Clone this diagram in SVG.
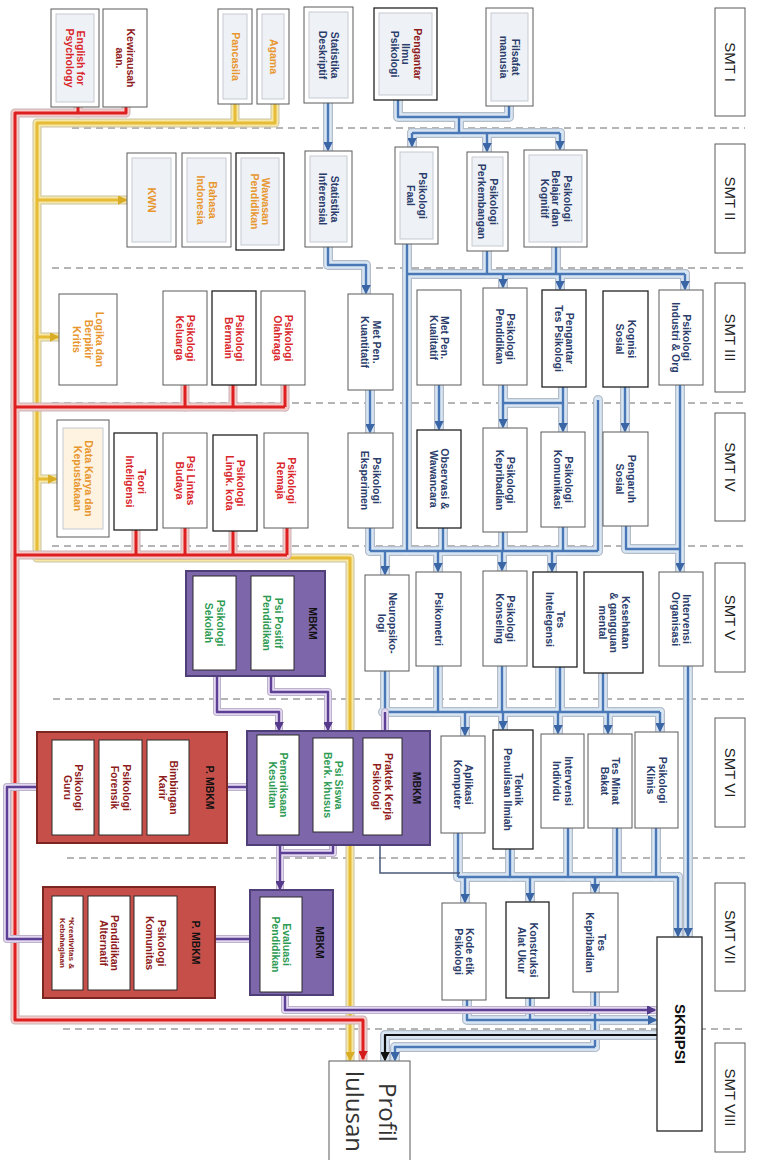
<svg xmlns="http://www.w3.org/2000/svg" xmlns:xlink="http://www.w3.org/1999/xlink" width="757" height="1160" viewBox="0 0 757 1160">
<style>
.box{fill:#fff;stroke:#5a5a5a;stroke-width:1}
.bk{stroke:#222;stroke-width:1.3}
.in{fill:#eef1f6;stroke:#c5cad2;stroke-width:1}
.t{font-family:"Liberation Sans",Arial,sans-serif;font-size:10.5px;font-weight:bold;fill:#2b3d6b;text-anchor:middle}
.o{fill:#e8962e}
.r{fill:#d9262b}
.dr{fill:#8e1b1b}
.g{fill:#2e9b53}
.k{fill:#111}
.s8{font-size:8px}
.smt{font-family:"Liberation Sans",Arial,sans-serif;font-size:15px;fill:#222;text-anchor:middle}
.sk{font-family:"Liberation Sans",Arial,sans-serif;font-size:15px;font-weight:bold;fill:#111;text-anchor:middle}
.pf{font-family:"Open Sans","Liberation Sans",sans-serif;font-size:24px;fill:#333}
.sep{stroke:#6b6b6b;stroke-width:1;stroke-dasharray:7 5;fill:none}
.mb{fill:#7d66a9;stroke:#4f3f78;stroke-width:2}
.pm{fill:#c64f4a;stroke:#7c2622;stroke-width:2}
.wb{fill:#fff;stroke:#2a2a2a;stroke-width:1}
.gl{fill:none;stroke-linejoin:round;stroke-linecap:round}
.gb{stroke:#b3bcc8;stroke-width:10}
.hb{stroke:#d8e6f4;stroke-width:7.5}
.cb{stroke:#4a78b6;stroke-width:2.4;stroke-linecap:butt}
.gr{stroke:#c8b4b4;stroke-width:9}
.hr{stroke:#f6c9c9;stroke-width:7}
.cr{stroke:#dd1f1f;stroke-width:3;stroke-linecap:butt}
.gy{stroke:#c9c2a5;stroke-width:9}
.hy{stroke:#f6e7a6;stroke-width:7}
.cy{stroke:#e6bb35;stroke-width:3;stroke-linecap:butt}
.gp{stroke:#bcb2c9;stroke-width:8}
.hp{stroke:#e3d7f1;stroke-width:6}
.cp{stroke:#5d3f93;stroke-width:2.4;stroke-linecap:butt}
.ck{stroke:#111;stroke-width:2.2;stroke-linecap:butt}
.thin{fill:none;stroke:#4a5a78;stroke-width:1.5}
</style>
<defs>
<marker id="ab" markerUnits="userSpaceOnUse" markerWidth="9" markerHeight="9" refX="8" refY="4.5" orient="auto"><path d="M0,0 L9,4.5 L0,9 z" fill="#3b66a6"/></marker>
<marker id="ar" markerUnits="userSpaceOnUse" markerWidth="9" markerHeight="9" refX="8" refY="4.5" orient="auto"><path d="M0,0 L9,4.5 L0,9 z" fill="#d21c1c"/></marker>
<marker id="ay" markerUnits="userSpaceOnUse" markerWidth="9" markerHeight="9" refX="8" refY="4.5" orient="auto"><path d="M0,0 L9,4.5 L0,9 z" fill="#d9ac25"/></marker>
<marker id="ap" markerUnits="userSpaceOnUse" markerWidth="9" markerHeight="9" refX="8" refY="4.5" orient="auto"><path d="M0,0 L9,4.5 L0,9 z" fill="#553a8c"/></marker>
<marker id="ak" markerUnits="userSpaceOnUse" markerWidth="9" markerHeight="9" refX="8" refY="4.5" orient="auto"><path d="M0,0 L9,4.5 L0,9 z" fill="#111"/></marker>
<g id="pb">
<path d="M398,100 V117 H509 V106"/>
<path d="M459,117 V133"/>
<path d="M412,133 H560"/>
<path d="M407,244 V551"/>
<path d="M487,251 V274"/>
<path d="M556,247 V274"/>
<path d="M407,274 H685"/>
<path d="M503,385 V403 H563 V387"/>
<path d="M598,400 V551"/>
<path d="M370,528 V551"/>
<path d="M443,528 V551"/>
<path d="M503,532 V551"/>
<path d="M563,527 V551"/>
<path d="M370,551 H598"/>
<path d="M626,526 V549 H680"/>
<path d="M385,671 V712"/>
<path d="M438,666 V712"/>
<path d="M502,666 V712"/>
<path d="M560,667 V712"/>
<path d="M603,673 V712"/>
<path d="M383,712 H660"/>
<path d="M458,833 V877"/>
<path d="M510,849 V877"/>
<path d="M568,828 V877"/>
<path d="M617,828 V877"/>
<path d="M656,828 V877"/>
<path d="M458,877 H678"/>
<path d="M530,998 V1020"/>
<path d="M595,992 V1047"/>
<path d="M328,103 V150" marker-end="url(#ab)"/>
<path d="M412,133 V146" marker-end="url(#ab)"/>
<path d="M487,133 V151" marker-end="url(#ab)"/>
<path d="M560,133 V149" marker-end="url(#ab)"/>
<path d="M328,247 V265 H366 V293" marker-end="url(#ab)"/>
<path d="M685,274 V289" marker-end="url(#ab)"/>
<path d="M503,274 V287" marker-end="url(#ab)"/>
<path d="M560,274 V289" marker-end="url(#ab)"/>
<path d="M370,390 V432" marker-end="url(#ab)"/>
<path d="M439,385 V429" marker-end="url(#ab)"/>
<path d="M503,403 V427" marker-end="url(#ab)"/>
<path d="M563,403 V431" marker-end="url(#ab)"/>
<path d="M625,387 V431" marker-end="url(#ab)"/>
<path d="M680,385 V571" marker-end="url(#ab)"/>
<path d="M385,551 V574" marker-end="url(#ab)"/>
<path d="M438,551 V571" marker-end="url(#ab)"/>
<path d="M502,551 V570" marker-end="url(#ab)"/>
<path d="M552,551 V571" marker-end="url(#ab)"/>
<path d="M660,712 V731" marker-end="url(#ab)"/>
<path d="M465,712 V735" marker-end="url(#ab)"/>
<path d="M503,712 V729" marker-end="url(#ab)"/>
<path d="M558,712 V733" marker-end="url(#ab)"/>
<path d="M608,712 V733" marker-end="url(#ab)"/>
<path d="M465,877 V902" marker-end="url(#ab)"/>
<path d="M530,877 V901" marker-end="url(#ab)"/>
<path d="M595,877 V892" marker-end="url(#ab)"/>
<path d="M678,877 V936" marker-end="url(#ab)"/>
<path d="M688,666 V936" marker-end="url(#ab)"/>
<path d="M467,1000 V1020 H656" marker-end="url(#ab)"/>
<path d="M595,1047 H395 V1060" marker-end="url(#ab)"/>
</g>
<g id="pr">
<path d="M78,107 V113"/>
<path d="M15,407 H285"/>
<path d="M185,385 V407"/>
<path d="M233,385 V407"/>
<path d="M285,385 V407"/>
<path d="M15,555 H287"/>
<path d="M136,530 V555"/>
<path d="M185,528 V555"/>
<path d="M233,531 V555"/>
<path d="M287,528 V555"/>
<path d="M126,107 V113 H15 V1020 H363 V1059" marker-end="url(#ar)"/>
</g>
<g id="py">
<path d="M235,104 V123"/>
<path d="M275,104 V123 H37 V558 H350 V1060" marker-end="url(#ay)"/>
<path d="M37,200 H126" marker-end="url(#ay)"/>
<path d="M37,337 H58" marker-end="url(#ay)"/>
<path d="M37,479 H56" marker-end="url(#ay)"/>
</g>
<g id="pp">
<path d="M333,845 V853 H280"/>
<path d="M37,787 H7 V939 H43"/>
<path d="M227,787 H247"/>
<path d="M215,939 H250"/>
<path d="M385,712 V731"/>
<path d="M217,676 V712 H279 V730" marker-end="url(#ap)"/>
<path d="M271,676 V692 H328 V730" marker-end="url(#ap)"/>
<path d="M280,845 V889" marker-end="url(#ap)"/>
<path d="M285,995 V1010 H655" marker-end="url(#ap)"/>
</g>
<g id="pk">
<path d="M657,1035 H385 V1060" marker-end="url(#ak)"/>
</g>
</defs>
<rect x="0" y="0" width="757" height="1160" fill="#fff"/>
<g id="separators">
<path class="sep" d="M72,128 H745 M52,268 H745 M52,403 H745 M52,546 H745 M53,699 H745 M67,858 H745 M63,1029 H745"/>
</g>
<g id="connectors">
<use xlink:href="#py" class="gl gy"/><use xlink:href="#py" class="gl hy"/><use xlink:href="#py" class="gl cy"/>
<use xlink:href="#pr" class="gl gr"/><use xlink:href="#pr" class="gl hr"/><use xlink:href="#pr" class="gl cr"/>
<use xlink:href="#pb" class="gl gb"/><use xlink:href="#pb" class="gl hb"/><use xlink:href="#pb" class="gl cb"/>
<use xlink:href="#pp" class="gl gp"/><use xlink:href="#pp" class="gl hp"/><use xlink:href="#pp" class="gl cp"/>
<use xlink:href="#pk" class="gl gb"/><use xlink:href="#pk" class="gl hb"/><use xlink:href="#pk" class="gl ck"/>
<path class="thin" d="M380,845 V873 H460"/>
</g>
<g id="semesters">
<g id="smt1"><rect class="box" x="715" y="8" width="30" height="108"/><text class="smt" transform="translate(730,62) rotate(90)" y="5.3">SMT I</text></g>
<g id="smt2"><rect class="box" x="715" y="144" width="30" height="109"/><text class="smt" transform="translate(730,198.5) rotate(90)" y="5.3">SMT II</text></g>
<g id="smt3"><rect class="box" x="715" y="283" width="30" height="109"/><text class="smt" transform="translate(730,337.5) rotate(90)" y="5.3">SMT III</text></g>
<g id="smt4"><rect class="box" x="715" y="413" width="30" height="108"/><text class="smt" transform="translate(730,467) rotate(90)" y="5.3">SMT IV</text></g>
<g id="smt5"><rect class="box" x="715" y="563" width="30" height="109"/><text class="smt" transform="translate(730,617.5) rotate(90)" y="5.3">SMT V</text></g>
<g id="smt6"><rect class="box" x="715" y="718" width="30" height="109"/><text class="smt" transform="translate(730,772.5) rotate(90)" y="5.3">SMT VI</text></g>
<g id="smt7"><rect class="box" x="715" y="883" width="30" height="108"/><text class="smt" transform="translate(730,937) rotate(90)" y="5.3">SMT VII</text></g>
<g id="smt8"><rect class="box" x="715" y="1043" width="30" height="109"/><text class="smt" transform="translate(730,1097.5) rotate(90)" y="5.3">SMT VIII</text></g>
</g>
<g id="n-filsafat"><rect class="box" x="486" y="8" width="47" height="98"/><rect class="in" x="491" y="13" width="37" height="88"/><text class="t" transform="translate(509.5,57) rotate(90)"><tspan x="0" y="-2.25">Filsafat</tspan><tspan x="0" y="9.25">manusia</tspan></text></g>
<g id="n-pip"><rect class="box bk" x="374" y="8" width="63" height="92"/><rect class="in" x="379" y="13" width="53" height="82"/><text class="t" transform="translate(405.5,54) rotate(90)"><tspan x="0" y="-8" class="dr">Pengantar</tspan><tspan x="0" y="3.5">Ilmu</tspan><tspan x="0" y="15">Psikologi</tspan></text></g>
<g id="n-statdes"><rect class="box" x="304" y="7" width="49" height="96"/><rect class="in" x="309" y="12" width="39" height="86"/><text class="t" transform="translate(328.5,55) rotate(90)"><tspan x="0" y="-2.25">Statistika</tspan><tspan x="0" y="9.25">Deskriptif</tspan></text></g>
<g id="n-agama"><rect class="box" x="257" y="9" width="32" height="95"/><rect class="in" x="262" y="14" width="22" height="85"/><text class="t o" transform="translate(273,56.5) rotate(90)" y="3.5">Agama</text></g>
<g id="n-pancasila"><rect class="box" x="218" y="9" width="34" height="95"/><rect class="in" x="223" y="14" width="24" height="85"/><text class="t o" transform="translate(235,56.5) rotate(90)" y="3.5">Pancasila</text></g>
<g id="n-kwu"><rect class="box" x="103" y="9" width="44" height="98"/><text class="t dr" transform="translate(125,58) rotate(90)"><tspan x="0" y="-2.25">Kewirausah</tspan><tspan x="0" y="9.25">aan.</tspan></text></g>
<g id="n-english"><rect class="box" x="51" y="9" width="48" height="98"/><rect class="in" x="56" y="14" width="38" height="88"/><text class="t r" transform="translate(75,58) rotate(90)"><tspan x="0" y="-2.25">English for</tspan><tspan x="0" y="9.25">Psychology</tspan></text></g>
<g id="n-belajar"><rect class="box" x="524" y="150" width="63" height="97"/><rect class="in" x="529" y="155" width="53" height="87"/><text class="t" transform="translate(555.5,198.5) rotate(90)"><tspan x="0" y="-8">Psikologi</tspan><tspan x="0" y="3.5">Belajar dan</tspan><tspan x="0" y="15">Kognitif</tspan></text></g>
<g id="n-perkembangan"><rect class="box" x="467" y="152" width="41" height="99"/><rect class="in" x="472" y="157" width="31" height="89"/><text class="t" transform="translate(487.5,201.5) rotate(90)"><tspan x="0" y="-2.25">Psikologi</tspan><tspan x="0" y="9.25">Perkembangan</tspan></text></g>
<g id="n-faal"><rect class="box" x="395" y="147" width="43" height="97"/><rect class="in" x="400" y="152" width="33" height="87"/><text class="t" transform="translate(416.5,195.5) rotate(90)"><tspan x="0" y="-2.25">Psikologi</tspan><tspan x="0" y="9.25">Faal</tspan></text></g>
<g id="n-statinf"><rect class="box" x="305" y="151" width="47" height="96"/><rect class="in" x="310" y="156" width="37" height="86"/><text class="t" transform="translate(328.5,199) rotate(90)"><tspan x="0" y="-2.25">Statistika</tspan><tspan x="0" y="9.25">Inferensial</tspan></text></g>
<g id="n-wawasan"><rect class="box bk" x="236" y="153" width="48" height="97"/><rect class="in" x="241" y="158" width="38" height="87"/><text class="t o" transform="translate(260,201.5) rotate(90)"><tspan x="0" y="-2.25">Wawasan</tspan><tspan x="0" y="9.25">Pendidikan</tspan></text></g>
<g id="n-bindo"><rect class="box" x="182" y="153" width="49" height="94"/><rect class="in" x="187" y="158" width="39" height="84"/><text class="t o" transform="translate(206.5,200) rotate(90)"><tspan x="0" y="-2.25">Bahasa</tspan><tspan x="0" y="9.25">Indonesia</tspan></text></g>
<g id="n-kwn"><rect class="box" x="127" y="153" width="49" height="94"/><rect class="in" x="132" y="158" width="39" height="84"/><text class="t o" transform="translate(151.5,200) rotate(90)" y="3.5">KWN</text></g>
<g id="n-pio"><rect class="box" x="659" y="290" width="44" height="95"/><text class="t" transform="translate(681,337.5) rotate(90)"><tspan x="0" y="-2.25">Psikologi</tspan><tspan x="0" y="9.25">Industri &amp; Org</tspan></text></g>
<g id="n-kognisi"><rect class="box bk" x="603" y="291" width="45" height="96"/><text class="t" transform="translate(625.5,339) rotate(90)"><tspan x="0" y="-2.25">Kognisi</tspan><tspan x="0" y="9.25">Sosial</tspan></text></g>
<g id="n-pengtes"><rect class="box bk" x="542" y="290" width="44" height="97"/><text class="t" transform="translate(564,338.5) rotate(90)"><tspan x="0" y="-2.25">Pengantar</tspan><tspan x="0" y="9.25">Tes Psikologi</tspan></text></g>
<g id="n-pendidikan"><rect class="box" x="483" y="288" width="44" height="97"/><text class="t" transform="translate(505,336.5) rotate(90)"><tspan x="0" y="-2.25">Psikologi</tspan><tspan x="0" y="9.25">Pendidikan</tspan></text></g>
<g id="n-kual"><rect class="box" x="417" y="290" width="44" height="95"/><text class="t" transform="translate(439,337.5) rotate(90)"><tspan x="0" y="-2.25">Met Pen.</tspan><tspan x="0" y="9.25">Kualitatif</tspan></text></g>
<g id="n-kuan"><rect class="box" x="348" y="294" width="45" height="96"/><text class="t" transform="translate(370.5,342) rotate(90)"><tspan x="0" y="-2.25">Met Pen.</tspan><tspan x="0" y="9.25">Kuantitatif</tspan></text></g>
<g id="n-olahraga"><rect class="box" x="261" y="291" width="44" height="94"/><text class="t r" transform="translate(283,338) rotate(90)"><tspan x="0" y="-2.25">Psikologi</tspan><tspan x="0" y="9.25">Olahraga</tspan></text></g>
<g id="n-bermain"><rect class="box bk" x="212" y="291" width="44" height="94"/><text class="t r" transform="translate(234,338) rotate(90)"><tspan x="0" y="-2.25">Psikologi</tspan><tspan x="0" y="9.25">Bermain</tspan></text></g>
<g id="n-keluarga"><rect class="box" x="163" y="291" width="44" height="94"/><text class="t r" transform="translate(185,338) rotate(90)"><tspan x="0" y="-2.25">Psikologi</tspan><tspan x="0" y="9.25">Keluarga</tspan></text></g>
<g id="n-logika"><rect class="box" x="59" y="294" width="58" height="91"/><text class="t o" transform="translate(88,339.5) rotate(90)"><tspan x="0" y="-8">Logika dan</tspan><tspan x="0" y="3.5">Berpikir</tspan><tspan x="0" y="15">Kritis</tspan></text></g>
<g id="n-pengaruh"><rect class="box" x="603" y="432" width="45" height="94"/><text class="t" transform="translate(625.5,479) rotate(90)"><tspan x="0" y="-2.25">Pengaruh</tspan><tspan x="0" y="9.25">Sosial</tspan></text></g>
<g id="n-komunikasi"><rect class="box" x="541" y="432" width="44" height="95"/><text class="t" transform="translate(563,479.5) rotate(90)"><tspan x="0" y="-2.25">Psikologi</tspan><tspan x="0" y="9.25">Komunikasi</tspan></text></g>
<g id="n-kepribadian"><rect class="box" x="483" y="428" width="44" height="104"/><text class="t" transform="translate(505,480) rotate(90)"><tspan x="0" y="-2.25">Psikologi</tspan><tspan x="0" y="9.25">Kepribadian</tspan></text></g>
<g id="n-obswaw"><rect class="box bk" x="417" y="430" width="44" height="98"/><text class="t" transform="translate(439,479) rotate(90)"><tspan x="0" y="-2.25">Observasi &amp;</tspan><tspan x="0" y="9.25">Wawancara</tspan></text></g>
<g id="n-eksperimen"><rect class="box" x="348" y="433" width="45" height="95"/><text class="t" transform="translate(370.5,480.5) rotate(90)"><tspan x="0" y="-2.25">Psikologi</tspan><tspan x="0" y="9.25">Eksperimen</tspan></text></g>
<g id="n-remaja"><rect class="box" x="264" y="433" width="44" height="95"/><text class="t r" transform="translate(286,480.5) rotate(90)"><tspan x="0" y="-2.25">Psikologi</tspan><tspan x="0" y="9.25">Remaja</tspan></text></g>
<g id="n-lingkota"><rect class="box bk" x="213" y="435" width="44" height="96"/><text class="t r" transform="translate(235,483) rotate(90)"><tspan x="0" y="-2.25">Psikologi</tspan><tspan x="0" y="9.25">Lingk. kota</tspan></text></g>
<g id="n-lintasbud"><rect class="box" x="163" y="433" width="44" height="95"/><text class="t r" transform="translate(185,480.5) rotate(90)"><tspan x="0" y="-2.25">Psi Lintas</tspan><tspan x="0" y="9.25">Budaya</tspan></text></g>
<g id="n-inteligensi"><rect class="box bk" x="114" y="433" width="43" height="97"/><text class="t r" transform="translate(135.5,481.5) rotate(90)"><tspan x="0" y="-2.25">Teori</tspan><tspan x="0" y="9.25">Inteligensi</tspan></text></g>
<g id="n-datakarya"><rect class="box" x="57" y="420" width="52" height="117"/><rect class="in" x="63" y="428" width="40" height="101" style="fill:#fdf3e0"/><text class="t o" transform="translate(83,478.5) rotate(90)"><tspan x="0" y="-2.25">Data Karya dan</tspan><tspan x="0" y="9.25">Kepustakaan</tspan></text></g>
<g id="n-intorg"><rect class="box" x="659" y="572" width="44" height="94"/><text class="t" transform="translate(681,619) rotate(90)"><tspan x="0" y="-2.25">Intervensi</tspan><tspan x="0" y="9.25">Organisasi</tspan></text></g>
<g id="n-keswa"><rect class="box bk" x="584" y="572" width="59" height="101"/><text class="t" transform="translate(613.5,622.5) rotate(90)"><tspan x="0" y="-8">Kesehatan</tspan><tspan x="0" y="3.5">&amp; gangguan</tspan><tspan x="0" y="15">mental</tspan></text></g>
<g id="n-tesint"><rect class="box bk" x="533" y="572" width="44" height="95"/><text class="t" transform="translate(555,619.5) rotate(90)"><tspan x="0" y="-2.25">Tes</tspan><tspan x="0" y="9.25">Intelegensi</tspan></text></g>
<g id="n-konseling"><rect class="box" x="483" y="571" width="44" height="95"/><text class="t" transform="translate(505,618.5) rotate(90)"><tspan x="0" y="-2.25">Psikologi</tspan><tspan x="0" y="9.25">Konseling</tspan></text></g>
<g id="n-psikometri"><rect class="box" x="416" y="572" width="45" height="94"/><text class="t" transform="translate(438.5,619) rotate(90)" y="3.5">Psikometri</text></g>
<g id="n-neuro"><rect class="box" x="365" y="575" width="44" height="96"/><text class="t" transform="translate(387,623) rotate(90)"><tspan x="0" y="-2.25">Neuropsiko-</tspan><tspan x="0" y="9.25">logi</tspan></text></g>
<g id="n-mbkm5"><rect class="mb" x="186" y="571" width="139" height="105"/><text class="t k" transform="translate(312,623.5) rotate(90)" y="3.5">MBKM</text><rect class="wb" x="251" y="576" width="43" height="94"/><text class="t g" transform="translate(272.5,623) rotate(90)"><tspan x="0" y="-2.25">Psi Positif</tspan><tspan x="0" y="9.25">Pendidikan</tspan></text><rect class="wb" x="193" y="576" width="43" height="94"/><text class="t g" transform="translate(214.5,623) rotate(90)"><tspan x="0" y="-2.25">Psikologi</tspan><tspan x="0" y="9.25">Sekolah</tspan></text></g>
<g id="n-klinis"><rect class="box" x="635" y="732" width="43" height="96"/><text class="t" transform="translate(656.5,780) rotate(90)"><tspan x="0" y="-2.25">Psikologi</tspan><tspan x="0" y="9.25">Klinis</tspan></text></g>
<g id="n-minat"><rect class="box" x="588" y="734" width="44" height="94"/><text class="t" transform="translate(610,781) rotate(90)"><tspan x="0" y="-2.25">Tes Minat</tspan><tspan x="0" y="9.25">Bakat</tspan></text></g>
<g id="n-intind"><rect class="box" x="541" y="734" width="43" height="94"/><text class="t" transform="translate(562.5,781) rotate(90)"><tspan x="0" y="-2.25">Intervensi</tspan><tspan x="0" y="9.25">Individu</tspan></text></g>
<g id="n-teknik"><rect class="box bk" x="493" y="730" width="40" height="119"/><text class="t" transform="translate(513,789.5) rotate(90)"><tspan x="0" y="-2.25">Teknik</tspan><tspan x="0" y="9.25">Penulisan Ilmiah</tspan></text></g>
<g id="n-aplikasi"><rect class="box" x="441" y="736" width="44" height="97"/><text class="t" transform="translate(463,784.5) rotate(90)"><tspan x="0" y="-2.25">Aplikasi</tspan><tspan x="0" y="9.25">Komputer</tspan></text></g>
<g id="n-mbkm6"><rect class="mb" x="247" y="731" width="183" height="114"/><text class="t k" transform="translate(416,788) rotate(90)" y="3.5">MBKM</text><rect class="wb" x="363" y="738" width="39" height="97"/><text class="t dr" transform="translate(382.5,786.5) rotate(90)"><tspan x="0" y="-2.25">Praktek Kerja</tspan><tspan x="0" y="9.25">Psikologi</tspan></text><rect class="wb" x="313" y="738" width="40" height="94"/><text class="t g" transform="translate(333,785) rotate(90)"><tspan x="0" y="-2.25">Psi Siswa</tspan><tspan x="0" y="9.25">Berk. khusus</tspan></text><rect class="wb" x="257" y="735" width="42" height="100"/><text class="t g" transform="translate(278,785) rotate(90)"><tspan x="0" y="-2.25">Pemeriksaan</tspan><tspan x="0" y="9.25">Kesulitan</tspan></text></g>
<g id="n-pmbkm6"><rect class="pm" x="37" y="732" width="190" height="111"/><text class="t k" transform="translate(209,787.5) rotate(90)" y="3.5">P. MBKM</text><rect class="wb" x="147" y="740" width="42" height="95"/><text class="t dr" transform="translate(168,787.5) rotate(90)"><tspan x="0" y="-2.25">Bimbingan</tspan><tspan x="0" y="9.25">Karir</tspan></text><rect class="wb" x="99" y="740" width="43" height="95"/><text class="t dr" transform="translate(120.5,787.5) rotate(90)"><tspan x="0" y="-2.25">Psikologi</tspan><tspan x="0" y="9.25">Forensik</tspan></text><rect class="wb" x="52" y="740" width="42" height="95"/><text class="t dr" transform="translate(73,787.5) rotate(90)"><tspan x="0" y="-2.25">Psikologi</tspan><tspan x="0" y="9.25">Guru</tspan></text></g>
<g id="n-teskep"><rect class="box" x="573" y="893" width="45" height="99"/><text class="t" transform="translate(595.5,942.5) rotate(90)"><tspan x="0" y="-2.25">Tes</tspan><tspan x="0" y="9.25">Kepribadian</tspan></text></g>
<g id="n-konstruksi"><rect class="box bk" x="506" y="902" width="43" height="96"/><text class="t" transform="translate(527.5,950) rotate(90)"><tspan x="0" y="-2.25">Konstruksi</tspan><tspan x="0" y="9.25">Alat Ukur</tspan></text></g>
<g id="n-kodeetik"><rect class="box" x="442" y="903" width="44" height="97"/><text class="t" transform="translate(464,951.5) rotate(90)"><tspan x="0" y="-2.25">Kode etik</tspan><tspan x="0" y="9.25">Psikologi</tspan></text></g>
<g id="n-skripsi"><rect class="box bk" x="657" y="937" width="45" height="194"/><text class="sk" transform="translate(679.5,1034) rotate(90)" y="5">SKRIPSI</text></g>
<g id="n-mbkm7"><rect class="mb" x="250" y="890" width="83" height="105"/><text class="t k" transform="translate(319,942.5) rotate(90)" y="3.5">MBKM</text><rect class="wb" x="260" y="897" width="42" height="95"/><text class="t g" transform="translate(281,944.5) rotate(90)"><tspan x="0" y="-2.25">Evaluasi</tspan><tspan x="0" y="9.25">Pendidikan</tspan></text></g>
<g id="n-pmbkm7"><rect class="pm" x="43" y="887" width="172" height="111"/><text class="t k" transform="translate(195,942.5) rotate(90)" y="3.5">P. MBKM</text><rect class="wb" x="134" y="896" width="43" height="94"/><text class="t dr" transform="translate(155.5,943) rotate(90)"><tspan x="0" y="-2.25">Psikologi</tspan><tspan x="0" y="9.25">Komunitas</tspan></text><rect class="wb" x="88" y="896" width="42" height="94"/><text class="t dr" transform="translate(109,943) rotate(90)"><tspan x="0" y="-2.25">Pendidikan</tspan><tspan x="0" y="9.25">Alternatif</tspan></text><rect class="wb" x="52" y="896" width="31" height="94"/><text class="t dr s8" transform="translate(67.5,943) rotate(90)"><tspan x="0" y="-1.8">*Kreativitas &amp;</tspan><tspan x="0" y="7.8">Kebahagiaan</tspan></text></g>
<g id="n-profil"><rect class="box" x="329" y="1061" width="81" height="110"/><text class="pf" transform="translate(379,1083) rotate(90)">Profil</text><text class="pf" transform="translate(346,1071) rotate(90)">lulusan</text></g>
</svg>
